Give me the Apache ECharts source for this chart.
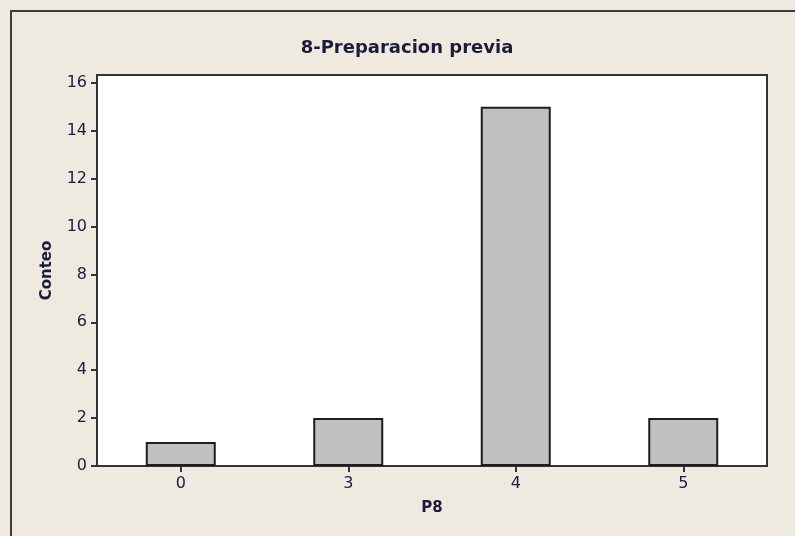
<!DOCTYPE html>
<html>
<head>
<meta charset="utf-8">
<script src="https://cdn.jsdelivr.net/npm/echarts@6/dist/echarts.min.js"></script>
<style>
  html, body { margin: 0; padding: 0; background: #EEEAE0; }
  #chart { width: 795px; height: 536px; }
</style>
</head>
<body>
<div id="chart"></div>
<script>
const titleText = '8-Preparacion previa';
const categories = ['0', '3', '4', '5'];
const counts = [1, 2, 15, 2];
const yTicks = [0, 2, 4, 6, 8, 10, 12, 14, 16];
const xName = 'P8';
const yName = 'Conteo';

const textColor = '#1c1c3a';
const font = 'DejaVu Sans';

const chart = echarts.init(document.getElementById('chart'), null, { renderer: 'canvas' });
chart.setOption({
  backgroundColor: '#EEEAE0',
  animation: false,
  graphic: [
    {
      type: 'rect', z: -10, silent: true,
      shape: { x: 11, y: 11, width: 820, height: 560 },
      style: { fill: 'none', stroke: '#3c3c3c', lineWidth: 2 }
    },
    {
      type: 'text', x: 407, y: 48, silent: true,
      style: {
        text: titleText, fill: textColor, align: 'center', verticalAlign: 'middle',
        font: 'bold 18px "DejaVu Sans"'
      }
    }
  ],
  grid: {
    left: 97, top: 75, right: 28, bottom: 70,
    show: true, backgroundColor: '#ffffff', borderColor: '#333333', borderWidth: 2
  },
  xAxis: {
    type: 'category',
    data: categories,
    name: xName,
    nameLocation: 'middle',
    nameGap: 35,
    nameTextStyle: { color: textColor, fontFamily: font, fontWeight: 'bold', fontSize: 15 },
    axisLine: { show: true, lineStyle: { color: '#333333', width: 2 } },
    axisTick: { show: true, alignWithLabel: true, length: 6, lineStyle: { color: '#333333', width: 2 } },
    axisLabel: { color: textColor, fontFamily: font, fontSize: 16, margin: 10 },
    splitLine: { show: false }
  },
  yAxis: {
    type: 'value',
    min: 0,
    max: 16.33,
    interval: 2,
    name: yName,
    nameLocation: 'middle',
    nameRotate: 90,
    nameGap: 42,
    nameTextStyle: { color: textColor, fontFamily: font, fontWeight: 'bold', fontSize: 15 },
    axisLine: { show: true, lineStyle: { color: '#333333', width: 2 } },
    axisTick: { show: true, length: 6, customValues: yTicks, lineStyle: { color: '#333333', width: 2 } },
    axisLabel: { color: textColor, fontFamily: font, fontSize: 16, margin: 10, customValues: yTicks },
    splitLine: { show: false }
  },
  series: [{
    type: 'bar',
    data: counts,
    barWidth: 70,
    itemStyle: { color: '#C0C0C0', borderColor: '#1e1e1e', borderWidth: 2 },
    emphasis: { disabled: true }
  }]
});
</script>
</body>
</html>
